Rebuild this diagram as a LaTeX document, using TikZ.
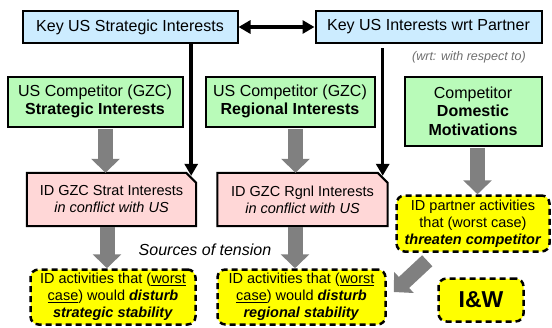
\documentclass[tikz,border=0pt]{standalone}
\usepackage{fontspec}
\setmainfont{Liberation Sans}
\usetikzlibrary{arrows.meta,backgrounds,calc}
\definecolor{kblue}{HTML}{CCECFF}
\definecolor{kgreen}{HTML}{B9FBB9}
\definecolor{kpink}{HTML}{FFD7D7}
\definecolor{kyellow}{HTML}{FFFF00}
\definecolor{kgrey}{HTML}{808080}
\definecolor{ktext}{HTML}{6E6E6E}
\begin{document}
\begin{tikzpicture}[x=1pt,y=-1pt,
  keybox/.style={draw=black, line width=2pt, fill=kblue, minimum height=32pt, inner sep=0pt,
    font=\fontsize{16}{19}\selectfont},
  compbox/.style={draw=black, line width=2pt, fill=kgreen, align=center, inner sep=0pt,
    font=\fontsize{16}{18.5}\selectfont},
  idbox/.style={inner sep=0pt, align=center, minimum width=169pt, minimum height=53pt,
    font=\fontsize{14.5}{17}\selectfont},
  idframe/.style={draw=black, line width=2pt, fill=kpink},
  actbox/.style={draw=black, line width=2.5pt, dash pattern=on 6pt off 4pt, rounded corners=8pt,
    fill=kyellow, align=center, inner sep=0pt, font=\fontsize{14.5}{17}\selectfont},
  blkline/.style={line width=3.5pt, draw=black},
  tipk/.tip={Triangle[length=12pt,width=13pt]},
  garrow/.style={draw=kgrey, line width=15pt, -{Triangle[length=14pt,width=28pt]}},
]
\useasboundingbox (0,0) rectangle (552,327);

% top boxes
\node[keybox, minimum width=215pt] (kus) at (130,27) {Key US Strategic Interests};
\node[keybox, minimum width=226pt] (kup) at (428.5,27) {Key US Interests wrt Partner};
\node[font=\fontsize{12.5}{15}\selectfont\itshape, text=ktext, inner sep=0pt] (wrt) at (469,57) {(wrt: with respect to)};

% green boxes
\node[compbox, minimum width=175pt, minimum height=50pt] (g1) at (95,101.5) {US Competitor (GZC)\\\textbf{Strategic Interests}};
\node[compbox, minimum width=169pt, minimum height=50pt] (g2) at (290,101.5) {US Competitor (GZC)\\\textbf{Regional Interests}};
\node[compbox, minimum width=137pt, minimum height=69pt] (g3) at (473,111) {Competitor\\\textbf{Domestic}\\\textbf{Motivations}};

% pink boxes
\node[idbox] (p1) at (111.5,199.5) {ID GZC Strat Interests\\\textit{in conflict with US}};
\node[idbox, minimum width=170pt] (p2) at (302.5,199.5) {ID GZC Rgnl Interests\\\textit{in conflict with US}};
\begin{scope}[on background layer]
  \foreach \p in {p1,p2}{
    \draw[idframe] (\p.south west) -- (\p.north west) -- ([xshift=-10pt]\p.north east)
      -- ([yshift=-10pt]\p.north east) -- (\p.south east) -- cycle;
  }
\end{scope}

% yellow boxes
\node[actbox, minimum width=165pt, minimum height=55pt] (y1) at (113,297)
  {ID activities that (\underline{worst}\\\underline{case}) would \textbf{\textit{disturb}}\\\textbf{\textit{strategic stability}}};
\node[actbox, minimum width=168pt, minimum height=55pt] (y2) at (301.5,297)
  {ID activities that (\underline{worst}\\\underline{case}) would \textbf{\textit{disturb}}\\\textbf{\textit{regional stability}}};
\node[actbox, minimum width=153pt, minimum height=56pt] (y3) at (473,223.5)
  {ID partner activities\\that (worst case)\\\textbf{\textit{threaten competitor}}};
\node[actbox, minimum width=85pt, minimum height=43pt, font=\fontsize{23}{26}\selectfont\bfseries] (iw) at (481,300) {I\&W};

\node[font=\fontsize{16}{19}\selectfont\itshape, inner sep=0pt] (src) at (205,250) {Sources of tension};

% black connectors
\draw[blkline, tipk-tipk] (kus.east) -- (kup.west);
\coordinate (c1) at ([xshift=-5pt,yshift=-3pt]p1.north east);
\coordinate (c2) at ([xshift=-5pt,yshift=-3pt]p2.north east);
\draw[blkline, -tipk] (kus.south -| c1) -- (c1);
\draw[blkline, -tipk] ([yshift=-4pt]kup.south -| c2) -- (c2);

% grey arrows
\draw[garrow] ([xshift=10.5pt,yshift=-1pt]g1.south) -- ([xshift=10.5pt]g1.south |- p1.north);
\draw[garrow] ([xshift=5.5pt,yshift=-1pt]g2.south) -- ([xshift=5.5pt]g2.south |- p2.north);
\draw[garrow] ([xshift=4.5pt,yshift=-1pt]g3.south) -- ([xshift=4.5pt]g3.south |- y3.north);
\draw[garrow] ([xshift=-4.5pt,yshift=-1pt]p1.south) -- ([xshift=-4.5pt]p1.south |- y1.north);
\draw[garrow] ([xshift=-7.5pt,yshift=-1pt]p2.south) -- ([xshift=-7.5pt]p2.south |- y2.north);
\coordinate (d1) at ($(y3.south west)+(32,8)$);
\coordinate (d2) at ($(y2.east)+(7,-5)$);
\draw[garrow] (d1) -- (d2);
\end{tikzpicture}
\end{document}
